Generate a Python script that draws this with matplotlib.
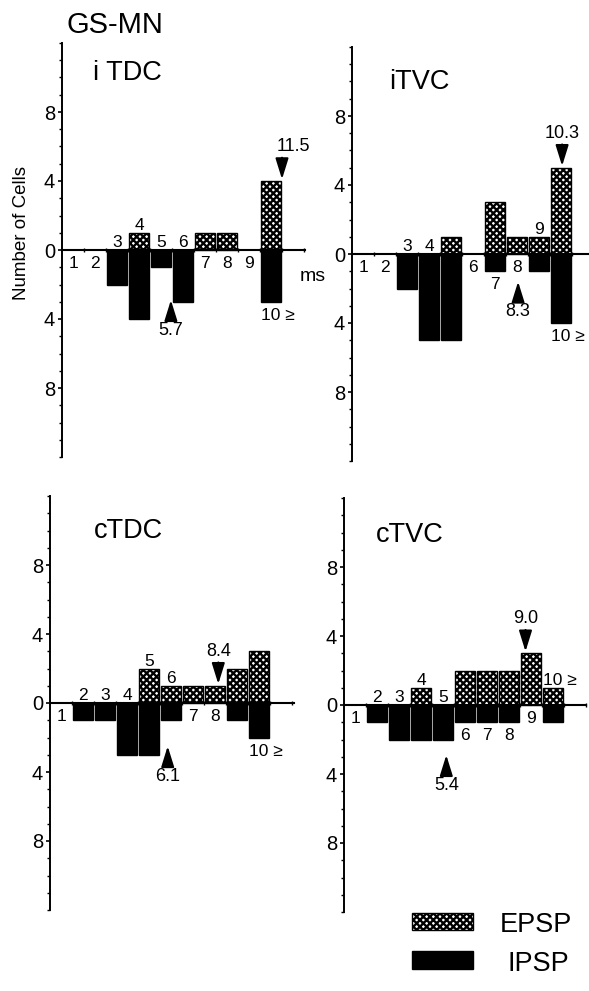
import matplotlib
matplotlib.use("Agg")
import matplotlib.pyplot as plt
from matplotlib.patches import Rectangle

plt.rcParams["font.family"] = ["Liberation Sans", "DejaVu Sans"]
plt.rcParams["hatch.linewidth"] = 1.7

# Latency bins (ms); the last bin collects everything >= 10 ms
bins = list(range(1, 11))
bin_labels = ["1", "2", "3", "4", "5", "6", "7", "8", "9", "10 \u2265"]

# Number of cells per latency bin
itdc_epsp = [0, 0, 0, 1, 0, 0, 1, 1, 0, 4]
itdc_ipsp = [0, 0, 2, 4, 1, 3, 0, 0, 0, 3]
itvc_epsp = [0, 0, 0, 0, 1, 0, 3, 1, 1, 5]
itvc_ipsp = [0, 0, 2, 5, 5, 0, 1, 0, 1, 4]
ctdc_epsp = [0, 0, 0, 0, 2, 1, 1, 1, 2, 3]
ctdc_ipsp = [0, 1, 1, 3, 3, 1, 0, 0, 1, 2]
ctvc_epsp = [0, 0, 0, 1, 0, 2, 2, 2, 3, 1]
ctvc_ipsp = [0, 1, 2, 2, 2, 1, 1, 1, 0, 1]

# Mean latencies (ms) of EPSPs and IPSPs
itdc_mean = [11.5, 5.7]
itvc_mean = [10.3, 8.3]
ctdc_mean = [8.4, 6.1]
ctvc_mean = [9.0, 5.4]

panel_titles = ["i TDC", "iTVC", "cTDC", "cTVC"]
y_tick_values = [-8, -4, 0, 4, 8]
y_tick_labels = ["8", "4", "0", "4", "8"]

W, H = 589, 991
SX, SY = 22.0, 17.25  # pixels per bin / per cell
fig = plt.figure(figsize=(W / 100, H / 100), dpi=100)

EPSP_STYLE = dict(facecolor="white", edgecolor="black", hatch="xxxxx")


def make_axes(x0, y0):
    # x0: pixel column of the y axis, y0: pixel row of the zero line
    left = x0 / W
    bottom = 1 - (y0 + 12 * SY) / H
    ax = fig.add_axes([left, bottom, 12 * SX / W, 24 * SY / H])
    ax.set_xlim(0, 12)
    ax.set_ylim(-12, 12)
    ax.patch.set_alpha(0)
    for s in ("top", "right", "bottom"):
        ax.spines[s].set_visible(False)
    ax.spines["left"].set_linewidth(1.4)
    ax.set_xticks([])
    ax.set_yticks(y_tick_values)
    ax.set_yticklabels(y_tick_labels)
    ax.set_yticks(range(-12, 13), minor=True)
    ax.tick_params(axis="y", which="major", length=3, width=1.2, pad=2, labelsize=14.5)
    ax.tick_params(axis="y", which="minor", length=2, width=1.0)
    return ax


def draw_panel(ax, epsp, ipsp, label_side, title, title_xy, means, ipsp_tip, line_end):
    centers = [b - 0.5 for b in bins]
    ex = [c for c, v in zip(centers, epsp) if v > 0]
    ev = [v for v in epsp if v > 0]
    ix = [c for c, v in zip(centers, ipsp) if v > 0]
    iv = [-v for v in ipsp if v > 0]
    ax.bar(ex, ev, width=0.9, linewidth=1.0, zorder=2, **EPSP_STYLE)
    ax.bar(ix, iv, width=0.9, color="black", edgecolor="black", zorder=2)

    # zero line running out past the last bin
    ax.plot([0, line_end], [0, 0], color="black", lw=1.5, clip_on=False, zorder=3)
    ax.plot(list(range(1, int(line_end) + 1)), [0] * int(line_end), "|",
            color="black", ms=3, mew=1.0, clip_on=False, zorder=3)

    # bin numbers, above the EPSP bar or below the IPSP bar
    for c, e, i, side, lab in zip(centers, epsp, ipsp, label_side, bin_labels):
        xc = c + (0.3 if lab.startswith("10") else 0.0)
        if side == "a":
            ax.text(xc, e + 0.15, lab, ha="center", va="baseline", fontsize=12.5)
        elif side == "b":
            ax.text(xc, -i - 0.35, lab, ha="center", va="top", fontsize=12.5)

    ax.text(title_xy[0], title_xy[1], title, ha="center", va="center", fontsize=19.5)

    arrow = dict(arrowstyle="-|>,head_length=0.9,head_width=0.28", color="black",
                 lw=1.5, mutation_scale=14, shrinkA=0, shrinkB=0)
    e_mean, i_mean = means
    # EPSP mean: arrow pointing down onto the bar of its bin;
    # means beyond the last bin sit at its right edge, label pushed aside
    xe = min(e_mean, 10.75) - 0.75
    be = min(int(xe) + 1, 10)
    tip = epsp[be - 1] + 0.1
    ax.annotate("", xy=(xe, tip), xytext=(xe, tip + 1.25), arrowprops=arrow)
    xt = xe + (0.5 if e_mean > 10.75 else 0.0)
    ax.text(xt, tip + 1.9, f"{e_mean:.1f}", ha="center", va="center", fontsize=13)
    # IPSP mean: arrow pointing up from below
    xi = min(i_mean, 10.75) - 0.75
    ax.annotate("", xy=(xi, ipsp_tip), xytext=(xi, ipsp_tip - 1.1), arrowprops=arrow)
    ax.text(xi, ipsp_tip - 1.75, f"{i_mean:.1f}", ha="center", va="center", fontsize=13)


ax1 = make_axes(62, 250)
draw_panel(ax1, itdc_epsp, itdc_ipsp, "bbaaaabbbb", panel_titles[0], (2.95, 10.25),
           itdc_mean, -2.9, 11.05)
ax1.text(11.4, -1.55, "ms", ha="center", va="center", fontsize=14)

ax2 = make_axes(352, 254)
draw_panel(ax2, itvc_epsp, itvc_ipsp, "bbaa.bbbab", panel_titles[1], (3.05, 9.95),
           itvc_mean, -1.6, 10.8)

ax3 = make_axes(50, 703)
draw_panel(ax3, ctdc_epsp, ctdc_ipsp, "baaaaabb.b", panel_titles[2], (3.55, 9.95),
           ctdc_mean, -2.5, 11.1)

ax4 = make_axes(344, 705)
draw_panel(ax4, ctvc_epsp, ctvc_ipsp, "baaaabbbba", panel_titles[3], (3.0, 9.85),
           ctvc_mean, -2.9, 11.0)

fig.text(115 / W, 1 - 25 / H, "GS-MN", ha="center", va="center", fontsize=21)
fig.text(22 / W, 1 - 233 / H, "Number of Cells", rotation=90,
         ha="center", va="center", fontsize=13.5)

# legend swatches
fig.add_artist(Rectangle((412 / W, 1 - 930 / H), 61 / W, 17 / H, transform=fig.transFigure,
                         lw=1.0, **EPSP_STYLE))
fig.add_artist(Rectangle((412 / W, 1 - 969 / H), 61 / W, 18 / H, transform=fig.transFigure,
                         facecolor="black", edgecolor="black", lw=1.0))
fig.text(500 / W, 1 - 925 / H, "EPSP", ha="left", va="center", fontsize=19.5)
fig.text(507 / W, 1 - 964 / H, "IPSP", ha="left", va="center", fontsize=19.5)

fig.savefig("out.png", dpi=100)
